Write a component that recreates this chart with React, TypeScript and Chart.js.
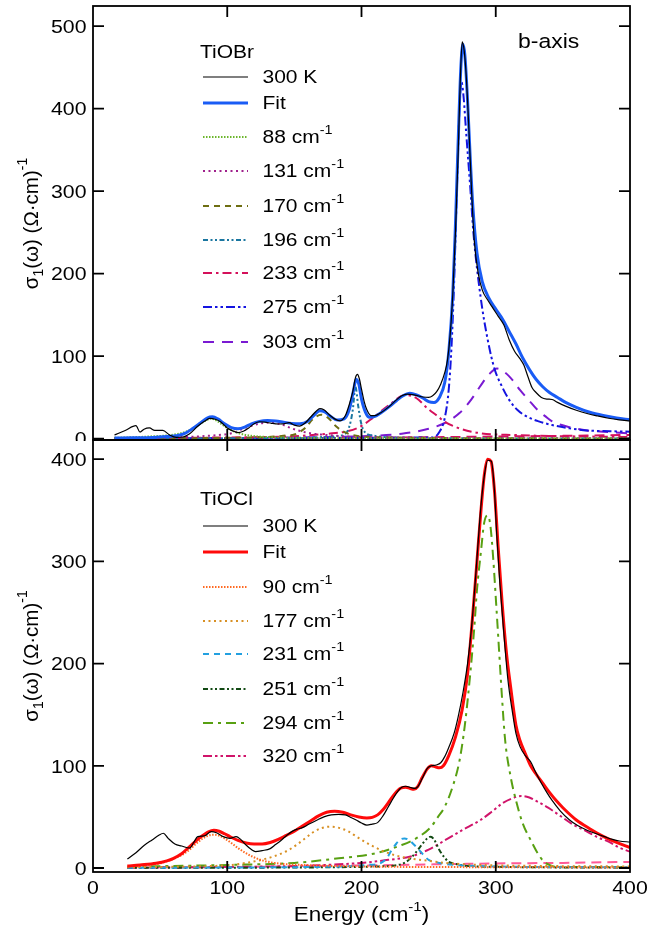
import React, { useEffect, useRef } from "react";
import { Chart, registerables } from "chart.js";
Chart.register(...registerables);

const FONT = '"Liberation Sans", Arial, Helvetica, sans-serif';
const LEG = 17.5; // legend font
const LEG_SX = 1.2;
const TICK = 18.5; // tick label font
const TICK_SX = 1.15;
const SUP = 12;

// ---------- tick values / labels ----------
const xTicks = [0, 100, 200, 300, 400];
const xTickLabels = ["0", "100", "200", "300", "400"];
const yTicksBr = [0, 100, 200, 300, 400, 500];
const yTicksCl = [0, 100, 200, 300, 400];

// ---------- TiOBr ----------
const br300E = [16,24,32,35,38,42,46,52,57,62,67,72,78,83,87,91,95,100,104,108,112,116,120,124,128,133,138,142,146,150,154,158,162,166,169,172,176,180,184,188,191,193.5,195.5,197,198.5,200,202,204,207,210,214,218,222,226,230,234,238,242,246,250,253,256,259,262,264,266,268,270,272,273.5,275,276.5,278,280,282,284,287,290,294,298,302,306,310,314,318,321,324,327,330,334,338,342,346,352,360,368,376,384,392,400];
const br300V = [4.5,10,15.8,8,11.5,13,10,10,4.5,1.5,2,6,15,21,24.5,23.5,20.5,13,9.5,7.3,9,13,18,20.5,20,18.6,17.8,18,19.4,16.5,15.3,19,26,33,36.5,35,29,24,21.5,28,42,57,74,78,72,60,45,35,28,28,31,35.5,41,47,52,54,53.5,52,50.5,50,52,57,66,80,95,125,175,250,345,430,481,470,440,375,300,240,200,180,168,158,148,138,120,106,97,89,75,62,56,50,48,47.5,44,39.5,34.5,30.5,27.5,24.8,22.8,21.4];

const brFitE = [16,30,45,55,62,68,74,80,85,89,93,98,103,108,113,118,124,130,136,142,148,154,160,165,169,173,177,182,187,191,194,196,198,200,203,206,210,215,220,226,231,236,241,246,250,254,258,262,265,268,270,272,274,275.5,277,279,281,283,286,290,295,300,305,310,315,320,325,330,335,340,346,352,360,370,380,390,400];
const brFitV = [0.8,1,1.5,2.5,3.5,6,12,19,25,26.5,24,18,13.5,12,14,18,21,22,21.5,20,18.5,18,21,29,34,32,27,22.5,24,36,58,72,66,48,32,26,27,32,38,46,52,55,53,49,45,44,50,68,105,175,260,360,450,478,465,410,340,280,225,190,170,157,145,130,115,98,84,72,63,56,50,44,38,32,28,25,23];

const br88E = [16,40,60,70,78,84,88,92,98,104,110,118,130,150,200,300,400];
const br88V = [1,2.5,5,9,16,22,24.5,22,15,9.5,6,3.5,2,1,0.5,0.2,0.1];
const br131E = [16,60,90,103,115,125,132,140,148,155,162,170,178,190,210,250,400];
const br131V = [0.5,1.5,4,6.5,14,18.5,19.5,17.5,12.5,9,6.5,5,4,2.5,1.5,0.8,0.3];
const br170E = [16,100,130,145,150,158,164,170,176,181,186,193,205,220,260,400];
const br170V = [0.3,1,2,4,5,13,24,29,24,15,9,4.5,2,1.5,0.8,0.2];
const br196E = [16,150,180,188,191,193.5,195.5,197.5,200,203,208,220,260,400];
const br196V = [0.2,1,3,6,15,35,63,40,17,7,4,1.5,0.5,0.2];
const br233E = [16,100,150,175,188,199,209,220,233,241,249,257,262,273,289,315,350,400];
const br233V = [0.5,1.5,3,6,8.5,14.5,26,40,53,49,37,27,20.5,12.5,6.5,4.4,3,2];
const br275E = [16,200,250,254,258,262,265,267,269,271,273,274.5,276,278,281,283.4,288.7,294,299,305,310,316,323,332,342,355,368,385,400];
const br275V = [0.3,0.8,1.5,2,8,25,60,110,190,300,400,432,415,370,305,249,172,120,85,62,47,35,27,21,16.5,12.5,10,9,8.5];
const br303E = [16,150,200,230,250,262,273,282,289,295,301,307,313,318,325,331,337,342,355,368,385,400];
const br303V = [0.5,1.5,3,6,12,19,31,48,65,78,85,80,70,59,46,35,27,21,14,10,8,6.5];
const brExtraE = [16,100,200,250,300,350,400];
const brExtraV = [0.3,0.6,1.2,1.8,2.6,3.4,4.5];

// ---------- TiOCl ----------
const cl300E = [25.6,32,38,44,49,52.4,56,61,66,72,75,78,83,88,92,97,102,106.6,110,114,118,121,126,132,136,140,144,148,152,156,161,167,172,177.5,183,188,192,196,200,204,208,212,216,220,224,227,230,233,237,240,242,245,249,252,255.6,259,262,265,269,272,275.5,279,282,285,287,289,291.4,294,296.7,299,300.7,303,306,309,312.6,315,318,322,326,330,334,338,341.7,348,355,361,368,375,381,387,392,400];
const cl300V = [8.8,15,22,27.5,32,34,29,23.5,21.5,19.6,25,30.7,31.4,35.6,34.5,30.7,29,30.7,28,22.5,18,16,17,19,23,27,31.5,35.6,38,39.5,43,47,50,52,52.5,52,49.5,47,44,42,43,44.4,51,60,69,75,79,80,78.6,78,79.6,87,97.6,100,100.8,103,109,118,132,148,171,200,236,285,321,355,383,399,398,370,327,280,230,185,151,132,119,110,104,93,83,74,66.6,56,47,41.5,37,33.5,30.7,28,26.4,25.4];

const clFitE = [25.6,35,47,55,60,66,72,78,82,86,90,94,98,102,108,114,120,126,132,138,144,150,156,162,168,174,180,186,192,198,204,208,212,216,220,225,229,233,236,239,242,245,249,252,255,258,261,265,270,275,279,283,286,289,291.5,294,296.5,299,302,305,308,311,315,318,322,326,330,335,340,345,350,360,370,380,390,400];
const clFitV = [2,3,4.6,7,9.5,14,21,28,32,35.5,37,36,33.5,30.7,27,24.5,23.5,23.5,25,28,32,36,41,46,51,54.5,55.5,54.5,52,50,49,49.5,52,57,64,73,78,79,78,77,80,88,97,100,99,98,100,110,128,155,190,250,300,350,385,400,398,370,310,255,210,178,140,125,112,100,92,83,74,66,59,47,38.5,31,25,20];

const cl90E = [25.6,40,50,58,66,72,77,82,88.7,93,98,103,108.6,114,119,126,135,146,156,180,220,300,400];
const cl90V = [1.5,2.8,4.6,8,12.7,18,24,29,32.5,32,29,24.5,19,14.5,11,7.5,5,3.5,3,2,1.2,0.8,0.5];
const cl177E = [25.6,60,90,103,116,130,138,145.7,152,158,164,170,177.5,184,190,196,202,209,217,225,233,241,250,262,275,288.7,320,400];
const cl177V = [0.8,1.2,2,3,5.5,9.5,13,17.6,23,29,35,39,40.5,39,36,31,26,21,16,12.5,10,8.5,7,5,3.8,3,2.2,1.5];
const cl231E = [25.6,150,195,205,214.6,219,222.5,226,229,232,235.8,239,242,246,250,256,262,275,300,400];
const cl231V = [0.3,0.8,2,3,5,10,17.6,24,28,29,27,23,19,13,8,5.5,4,2.5,1.5,0.6];
const cl251E = [25.6,150,210,225,232,237,241,245,249,251.6,254,258,262,265,270,275,300,400];
const cl251V = [0.2,0.5,1.5,2.5,5,10,16,23,29,30.7,28,17.6,10,6,4,2.6,1.2,0.4];
const cl294E = [25.6,60,100,150,183,209,230,242,251.6,257,262,268,273,277,281,284,286,289,291.4,294,296,298,300,302,304.5,307,311,315,320,326,331,336,340,344,360,400];
const cl294V = [1.3,2,3,5,9.5,14,22.5,30,40,50,60,80,105,140,190,235,272,310,338,345,335,305,265,223,170,125,90,66.5,44,27.4,15,6,3,1.3,1,0.8];
const cl320E = [25.6,100,150,200,220,235.8,250,262,275,288.7,297,304.6,312,319,325,331,339,347,357,368,376,384,392,400];
const cl320V = [0.2,1,2,5,8,11,18,27,37,47,55,63,68,70.5,69,65,59,52,43,35.6,30,25.8,20,16];
const clExtraE = [25.6,100,200,250,300,350,400];
const clExtraV = [0.5,1,2.5,3.5,4.5,5,6];

// ---------- legend labels ----------
const brLabels = ["300 K", "Fit", "88", "131", "170", "196", "233", "275", "303"];
const clLabels = ["300 K", "Fit", "90", "177", "231", "251", "294", "320"];

type Series = { E: number[]; V: number[]; color: string; width: number; dash: number[]; label?: string; cm?: boolean };

const brSeries: Series[] = [
  { E: br300E, V: br300V, color: "#000000", width: 1.2, dash: [], label: brLabels[0] },
  { E: brFitE, V: brFitV, color: "#1a5cf5", width: 3, dash: [], label: brLabels[1] },
  { E: br88E, V: br88V, color: "#6cb62c", width: 2, dash: [1.5, 1.5], label: brLabels[2], cm: true },
  { E: br131E, V: br131V, color: "#a0208c", width: 2, dash: [2, 3.5], label: brLabels[3], cm: true },
  { E: br170E, V: br170V, color: "#6e6e12", width: 2, dash: [6, 5], label: brLabels[4], cm: true },
  { E: br196E, V: br196V, color: "#1a76a0", width: 2, dash: [5, 2.5, 2, 2.5, 2, 2.5], label: brLabels[5], cm: true },
  { E: br233E, V: br233V, color: "#d4105a", width: 2, dash: [9, 4, 2.5, 4], label: brLabels[6], cm: true },
  { E: br275E, V: br275V, color: "#1414e0", width: 2, dash: [9, 3, 2.5, 3, 2.5, 3], label: brLabels[7], cm: true },
  { E: br303E, V: br303V, color: "#7a1ad2", width: 2, dash: [11, 8], label: brLabels[8], cm: true },
  { E: brExtraE, V: brExtraV, color: "#d41060", width: 2, dash: [10, 6] },
];

const clSeries: Series[] = [
  { E: cl300E, V: cl300V, color: "#000000", width: 1.2, dash: [], label: clLabels[0] },
  { E: clFitE, V: clFitV, color: "#ff0a0a", width: 3, dash: [], label: clLabels[1] },
  { E: cl90E, V: cl90V, color: "#ff6a22", width: 2, dash: [1.5, 1.5], label: clLabels[2], cm: true },
  { E: cl177E, V: cl177V, color: "#d89024", width: 2, dash: [2, 3.5], label: clLabels[3], cm: true },
  { E: cl231E, V: cl231V, color: "#22a0e0", width: 2, dash: [6, 5], label: clLabels[4], cm: true },
  { E: cl251E, V: cl251V, color: "#124a14", width: 2, dash: [5, 2.5, 2, 2.5, 2, 2.5], label: clLabels[5], cm: true },
  { E: cl294E, V: cl294V, color: "#58a012", width: 2, dash: [10, 5, 3, 5], label: clLabels[6], cm: true },
  { E: cl320E, V: cl320V, color: "#d0146a", width: 2, dash: [9, 3, 2.5, 3, 2.5, 3], label: clLabels[7], cm: true },
  { E: clExtraE, V: clExtraV, color: "#ff5a96", width: 2, dash: [10, 6] },
];

type Part = { t: string; size: number; rise?: number };

function partsWidth(ctx: CanvasRenderingContext2D, parts: Part[]) {
  let w = 0;
  for (const p of parts) {
    ctx.font = `${p.size}px ${FONT}`;
    w += ctx.measureText(p.t).width;
  }
  return w;
}

function drawParts(ctx: CanvasRenderingContext2D, parts: Part[], x: number, y: number, align: string, sx: number, rotate = false) {
  ctx.save();
  ctx.translate(x, y);
  if (rotate) {
    ctx.rotate(-Math.PI / 2);
    ctx.scale(1, sx);
  } else {
    ctx.scale(sx, 1);
  }
  ctx.fillStyle = "#000";
  ctx.textBaseline = "alphabetic";
  ctx.textAlign = "left";
  const w = partsWidth(ctx, parts);
  let cx = align === "center" ? -w / 2 : align === "right" ? -w : 0;
  for (const p of parts) {
    ctx.font = `${p.size}px ${FONT}`;
    ctx.fillText(p.t, cx, -(p.rise || 0));
    cx += ctx.measureText(p.t).width;
  }
  ctx.restore();
}

type PanelCfg = {
  height: number;
  padTop: number;
  padBottom: number;
  showX: boolean;
  xAxisH: number;
  yMin: number;
  yMax: number;
  yTicks: number[];
  series: Series[];
  legendTitle: string;
  legendTitleY: number;
  legendYs: number[];
  yTitleY: number;
  tag?: string;
  xLabelY?: number;
  xTitleY?: number;
};

const panelBr: PanelCfg = {
  height: 441, padTop: 6, padBottom: 1, showX: false, xAxisH: 0,
  yMin: -1.6, yMax: 524.4, yTicks: yTicksBr, series: brSeries,
  legendTitle: "TiOBr", legendTitleY: 57.5,
  legendYs: [77, 103, 137, 171, 206, 240, 273, 307, 342],
  yTitleY: 223.5, tag: "b-axis",
};

const panelCl: PanelCfg = {
  height: 495, padTop: 1, padBottom: 0, showX: true, xAxisH: 62,
  yMin: -3.9, yMax: 418.8, yTicks: yTicksCl, series: clSeries,
  legendTitle: "TiOCl", legendTitleY: 65.5,
  legendYs: [87, 113, 148, 182, 215, 250, 284, 317],
  yTitleY: 217, xLabelY: 455, xTitleY: 482,
};

function makePlugin(cfg: PanelCfg) {
  return {
    id: "frameAndText",
    afterDraw(chart: any) {
      const ctx: CanvasRenderingContext2D = chart.ctx;
      const ca = chart.chartArea;
      const xs = chart.scales.x;
      const ys = chart.scales.y;
      const TL = 11;
      ctx.save();
      ctx.strokeStyle = "#000";
      ctx.lineWidth = 1.8;
      ctx.strokeRect(ca.left, ca.top, ca.right - ca.left, ca.bottom - ca.top);
      ctx.beginPath();
      for (const v of cfg.yTicks) {
        const py = ys.getPixelForValue(v);
        ctx.moveTo(ca.left, py);
        ctx.lineTo(ca.left + TL, py);
        ctx.moveTo(ca.right, py);
        ctx.lineTo(ca.right - TL, py);
      }
      for (const v of xTicks) {
        if (v <= xs.min || v >= xs.max) continue;
        const px = xs.getPixelForValue(v);
        ctx.moveTo(px, ca.top);
        ctx.lineTo(px, ca.top + TL);
        ctx.moveTo(px, ca.bottom);
        ctx.lineTo(px, ca.bottom - TL);
      }
      ctx.stroke();
      ctx.restore();

      // y tick labels
      cfg.yTicks.forEach((v) => {
        const py = ys.getPixelForValue(v);
        drawParts(ctx, [{ t: String(v), size: TICK }], ca.left - 6.5, py + 6.7, "right", TICK_SX);
      });
      // x tick labels and title
      if (cfg.showX && cfg.xLabelY !== undefined) {
        xTicks.forEach((v, i) => {
          drawParts(ctx, [{ t: xTickLabels[i], size: TICK }], xs.getPixelForValue(v), cfg.xLabelY!, "center", TICK_SX);
        });
        drawParts(
          ctx,
          [{ t: "Energy (cm", size: 20 }, { t: "-1", size: 13.5, rise: 10 }, { t: ")", size: 20 }],
          (ca.left + ca.right) / 2, cfg.xTitleY!, "center", 1.12
        );
      }
      // y title (rotated)
      drawParts(
        ctx,
        [
          { t: "σ", size: 20.5 },
          { t: "1", size: 14, rise: -5 },
          { t: "(ω) (Ω·cm)", size: 20.5 },
          { t: "-1", size: 14, rise: 11 },
        ],
        38, cfg.yTitleY, "center", 1, true
      );
      // tag
      if (cfg.tag) drawParts(ctx, [{ t: cfg.tag, size: 20.5 }], 518, 48, "left", 1.12);

      // legend
      drawParts(ctx, [{ t: cfg.legendTitle, size: LEG }], 200, cfg.legendTitleY, "left", LEG_SX);
      const ds = chart.data.datasets;
      let k = 0;
      cfg.series.forEach((s, i) => {
        if (!s.label) return;
        const y = cfg.legendYs[k++];
        const d = ds[i];
        ctx.save();
        ctx.strokeStyle = d.borderColor;
        ctx.lineWidth = d.borderWidth;
        ctx.setLineDash(d.borderDash || []);
        ctx.beginPath();
        ctx.moveTo(203, y);
        ctx.lineTo(248, y);
        ctx.stroke();
        ctx.restore();
        const parts: Part[] = s.cm
          ? [{ t: s.label + " cm", size: LEG }, { t: "-1", size: SUP, rise: 9 }]
          : [{ t: s.label, size: LEG }];
        drawParts(ctx, parts, 262.5, y + 6.2, "left", LEG_SX);
      });
    },
  };
}

function buildConfig(cfg: PanelCfg): any {
  return {
    type: "line",
    data: {
      datasets: cfg.series.map((s) => ({
        label: s.label || "",
        data: s.E.map((x, i) => ({ x, y: s.V[i] })),
        borderColor: s.color,
        borderWidth: s.width,
        borderDash: s.dash,
        pointRadius: 0,
        fill: false,
        cubicInterpolationMode: "monotone",
      })),
    },
    options: {
      animation: false,
      responsive: false,
      maintainAspectRatio: false,
      layout: { padding: { top: cfg.padTop, bottom: cfg.padBottom, left: 0, right: 17 } },
      plugins: { legend: { display: false }, tooltip: { enabled: false } },
      scales: {
        x: {
          type: "linear",
          min: 0,
          max: 400,
          display: cfg.showX,
          grid: { display: false, drawTicks: false },
          border: { display: false },
          ticks: { display: false },
          afterBuildTicks: (sc: any) => {
            sc.ticks = xTicks.map((v) => ({ value: v }));
          },
          afterFit: (sc: any) => {
            sc.height = cfg.xAxisH;
          },
        },
        y: {
          type: "linear",
          min: cfg.yMin,
          max: cfg.yMax,
          grid: { display: false, drawTicks: false },
          border: { display: false },
          ticks: { display: false },
          afterBuildTicks: (sc: any) => {
            sc.ticks = cfg.yTicks.map((v) => ({ value: v }));
          },
          afterFit: (sc: any) => {
            sc.width = 93;
          },
        },
      },
    },
    plugins: [makePlugin(cfg)],
  };
}

function Panel({ cfg, top }: { cfg: PanelCfg; top: number }) {
  const ref = useRef<HTMLCanvasElement>(null);
  useEffect(() => {
    const chart = new Chart(ref.current as HTMLCanvasElement, buildConfig(cfg));
    return () => chart.destroy();
  }, [cfg]);
  return (
    <canvas
      ref={ref}
      width={647}
      height={cfg.height}
      style={{ position: "absolute", left: 0, top, width: 647, height: cfg.height, display: "block" }}
    />
  );
}

export default function App() {
  return (
    <div style={{ position: "absolute", left: 0, top: 0, width: 647, height: 934, background: "#fff", overflow: "hidden" }}>
      <Panel cfg={panelBr} top={0} />
      <Panel cfg={panelCl} top={439} />
    </div>
  );
}
